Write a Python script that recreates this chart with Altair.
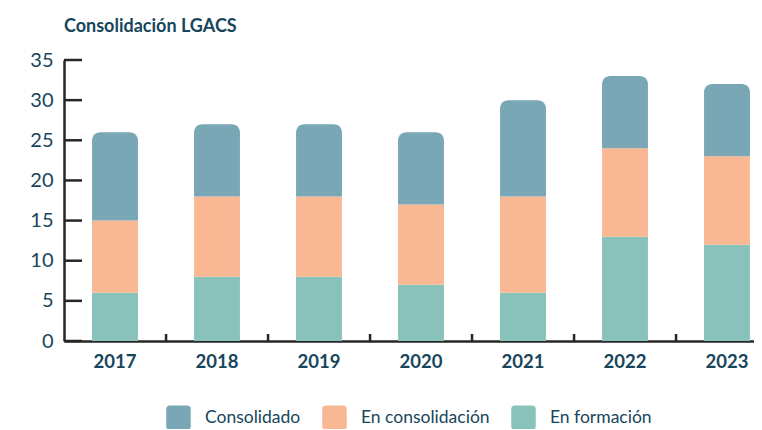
import altair as alt
import pandas as pd

years = ["2017", "2018", "2019", "2020", "2021", "2022", "2023"]
series = ["Consolidado", "En consolidación", "En formación"]
consolidado = [11, 9, 9, 9, 12, 9, 9]
en_consolidacion = [9, 10, 10, 10, 12, 11, 11]
en_formacion = [6, 8, 8, 7, 6, 13, 12]
colors = ["#79a7b5", "#f9b893", "#88c2ba"]
y_ticks = [0, 5, 10, 15, 20, 25, 30, 35]

rows = []
for i, yr in enumerate(years):
    rows.append({"year": yr, "serie": "En formación", "value": en_formacion[i], "order": 0})
    rows.append({"year": yr, "serie": "En consolidación", "value": en_consolidacion[i], "order": 1})
    rows.append({"year": yr, "serie": "Consolidado", "value": consolidado[i], "order": 2})
df = pd.DataFrame(rows)

W, H = 690, 281
AXIS_COLOR = "#262626"
TEXT_COLOR = "#17465c"

xscale = alt.Scale(domain=years, range=[0, 714], paddingInner=0.55, paddingOuter=0.275)
yscale = alt.Scale(domain=[0, 35], nice=False, zero=True)

xaxis = alt.Axis(title=None, domain=True, domainColor=AXIS_COLOR, domainWidth=2.5,
                 ticks=False, grid=False, labelAngle=0, labelFont="Lato",
                 labelFontWeight="bold", labelFontSize=18.5, labelColor=TEXT_COLOR,
                 labelPadding=11)
yaxis = alt.Axis(title=None, domain=True, domainColor=AXIS_COLOR, domainWidth=2.5,
                 ticks=False, grid=False, values=y_ticks, labelFont="Lato",
                 labelFontSize=20, labelColor=TEXT_COLOR, labelPadding=11)

rounded = "M-0.7,-1H0.7Q1,-1,1,-0.7V0.7Q1,1,0.7,1H-0.7Q-1,1,-1,0.7V-0.7Q-1,-1,-0.7,-1Z"
legend = alt.Legend(title=None, orient="none", legendX=102, legendY=345,
                    direction="horizontal", symbolType=rounded, symbolSize=600,
                    symbolStrokeWidth=0, symbolOpacity=1, labelFont="Lato",
                    labelFontSize=17.5, labelColor=TEXT_COLOR, labelOffset=14,
                    columnPadding=21, padding=0)
color = alt.Color("serie:N", scale=alt.Scale(domain=series, range=colors), legend=legend)

base = alt.Chart(df).transform_stack(
    stack="value", groupby=["year"],
    sort=[alt.SortField("order", order="ascending")], as_=["y0", "y1"])

enc = dict(
    x=alt.X("year:N", scale=xscale, axis=xaxis, sort=years),
    y=alt.Y("y1:Q", scale=yscale, axis=yaxis),
    y2="y0:Q",
    color=color,
)
lower = base.transform_filter("datum.order < 2").mark_bar().encode(**enc)
upper = base.transform_filter("datum.order == 2").mark_bar(
    cornerRadiusTopLeft=8, cornerRadiusTopRight=8).encode(**enc)

ytick_layer = alt.Chart(pd.DataFrame({"v": y_ticks})).mark_rule(
    color=AXIS_COLOR, strokeWidth=2.5).encode(
    y=alt.Y("v:Q", scale=yscale, axis=yaxis),
    x=alt.value(0), x2=alt.value(18))

xtick_layer = alt.Chart(pd.DataFrame({"year": years[1:]})).mark_rule(
    color=AXIS_COLOR, strokeWidth=2.5, xOffset=-28).encode(
    x=alt.X("year:N", scale=xscale, axis=xaxis, sort=years, bandPosition=0),
    y=alt.value(H), y2=alt.value(H - 7))

chart = alt.layer(lower, upper, ytick_layer, xtick_layer).properties(
    width=W, height=H,
    title=alt.TitleParams("Consolidación LGACS", anchor="start", frame="group",
                          font="Lato", fontSize=18, fontWeight="bold",
                          color=TEXT_COLOR, offset=14),
    autosize=alt.AutoSizeParams(type="none"),
    padding={"left": 56, "top": 52, "right": 0, "bottom": 88},
).configure_view(stroke=None)

chart.save("out.html", embed_options={"renderer": "svg", "actions": False})
